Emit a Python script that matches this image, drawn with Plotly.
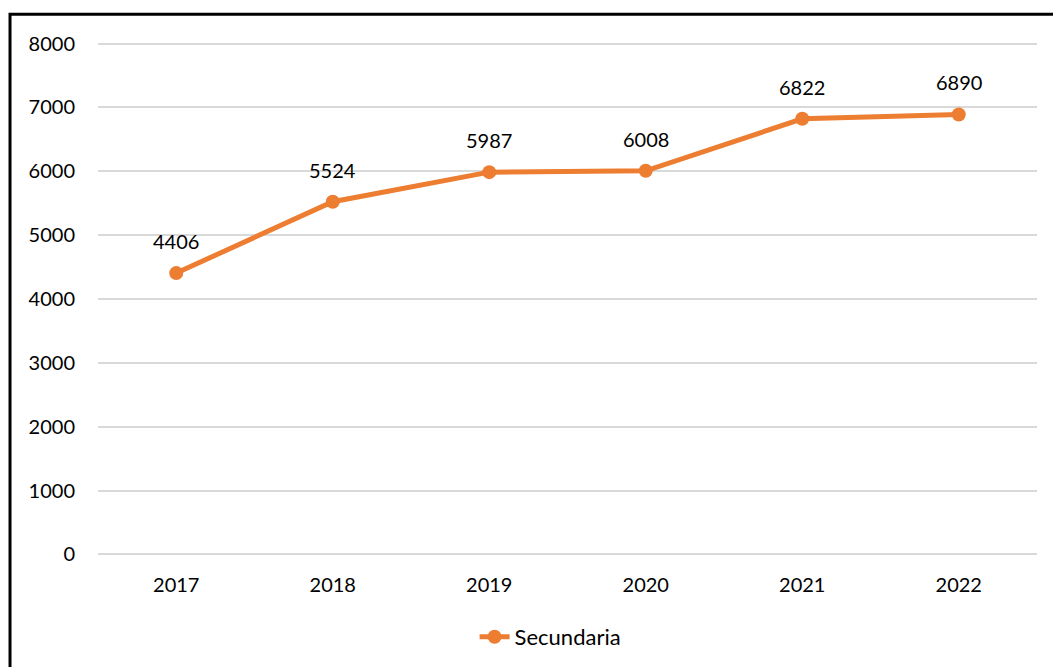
import plotly.graph_objects as go

years = ["2017", "2018", "2019", "2020", "2021", "2022"]
secundaria = [4406, 5524, 5987, 6008, 6822, 6890]
y_ticks = [0, 1000, 2000, 3000, 4000, 5000, 6000, 7000, 8000]

ORANGE = "#ED7D31"
FONT = "Lato"

fig = go.Figure()
fig.add_trace(go.Scatter(
    x=years, y=secundaria, mode="lines+markers", name="Secundaria",
    line=dict(color=ORANGE, width=5),
    marker=dict(color=ORANGE, size=14),
))

for i, yv in enumerate(secundaria):
    fig.add_annotation(x=i, y=yv, xref="x", yref="y", text=str(yv), showarrow=False,
                       yshift=32, font=dict(family=FONT, size=20, color="#000000"))

fig.add_shape(type="rect", xref="paper", yref="paper",
              x0=-0.0937, x1=1.3, y0=-0.6, y1=1.054,
              line=dict(color="#000000", width=3), fillcolor="rgba(0,0,0,0)")

fig.update_layout(
    width=1053, height=667,
    margin=dict(l=98, r=16, t=42, b=111, autoexpand=False),
    paper_bgcolor="white", plot_bgcolor="white",
    font=dict(family=FONT, size=20, color="#000000"),
    showlegend=True,
    legend=dict(orientation="h", x=0.482, xanchor="center",
                yref="container", y=0.045, yanchor="middle",
                font=dict(family=FONT, size=22)),
    xaxis=dict(type="category", range=[-0.5, 5.5], showgrid=False, showline=False,
               ticks="", ticklabelstandoff=15, zeroline=False, automargin=False),
    yaxis=dict(range=[-25, 8025], tickvals=y_ticks, showgrid=True, gridcolor="#D9D9D9",
               gridwidth=1.5, zeroline=False, showline=False, ticks="",
               ticklabelstandoff=22, automargin=False),
)

fig.write_html("out.html", config={"displayModeBar": False},
               post_script="document.body.style.margin='0';document.body.style.overflow='hidden';")
